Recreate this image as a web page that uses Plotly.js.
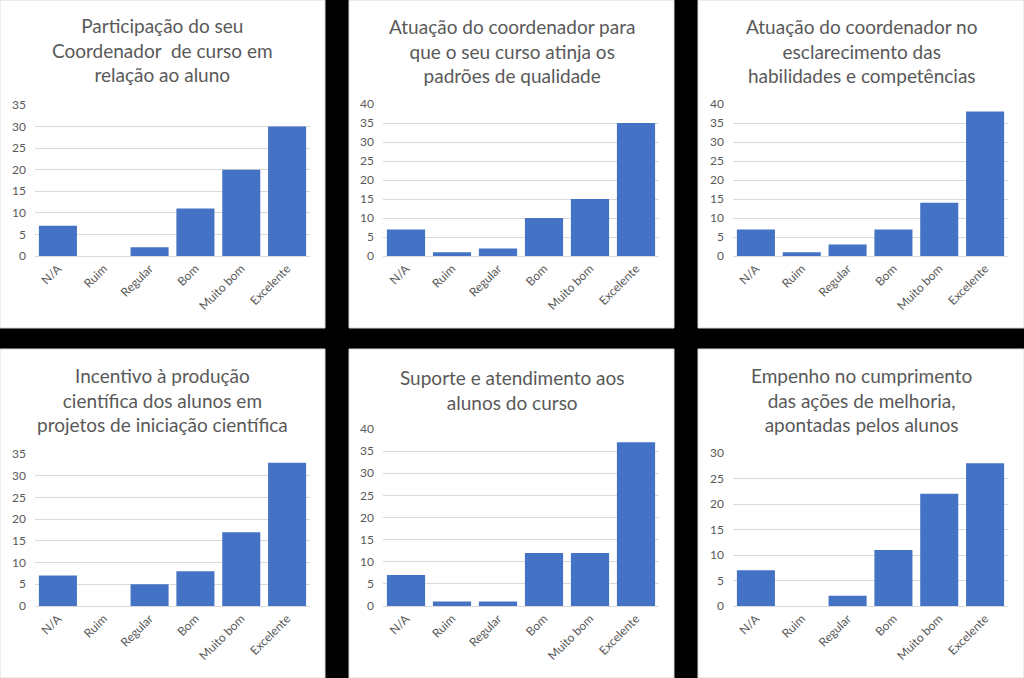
<!DOCTYPE html>
<html>
<head>
<meta charset="utf-8">
<script src="https://cdn.plot.ly/plotly-3.0.1.min.js"></script>
<style>html,body{margin:0;padding:0;background:#000;}#chart{width:1024px;height:678px;}</style>
</head>
<body>
<div id="chart"></div>
<script>
const categories = ["N/A", "Ruim", "Regular", "Bom", "Muito bom", "Excelente"];
const titles = [
  "Participação do seu<br>Coordenador  de curso em<br>relação ao aluno",
  "Atuação do coordenador para<br>que o seu curso atinja os<br>padrões de qualidade",
  "Atuação do coordenador no<br>esclarecimento das<br>habilidades e competências",
  "Incentivo à produção<br>científica dos alunos em<br>projetos de iniciação científica",
  "Suporte e atendimento aos<br>alunos do curso",
  "Empenho no cumprimento<br>das ações de melhoria,<br>apontadas pelos alunos"
];
const participacao = [7, 0, 2, 11, 20, 30];
const padroesQualidade = [7, 1, 2, 10, 15, 35];
const habilidades = [7, 1, 3, 7, 14, 38];
const iniciacaoCientifica = [7, 0, 5, 8, 17, 33];
const suporte = [7, 1, 1, 12, 12, 37];
const acoesMelhoria = [7, 0, 2, 11, 22, 28];
const yMax = [35, 40, 40, 35, 40, 30];

const series = [participacao, padroesQualidade, habilidades, iniciacaoCientifica, suporte, acoesMelhoria];

const W = 1024, H = 678;
const px = v => v / W;
const py = v => 1 - v / H;

// panel boxes (pixels): [x0, y0, x1, y1]
const panels = [
  [0, 0, 325, 328], [349, 0, 674, 328], [698, 0, 1024, 328],
  [0, 349, 325, 678], [349, 349, 674, 678], [698, 349, 1024, 678]
];
// plot areas (pixels): [x0, x1, yTop, yBottom]
const plots = [
  [35, 310, 105, 256], [383, 659, 104, 256], [733, 1008, 104, 256],
  [35, 310, 454, 606], [383, 659, 429, 606], [733, 1008, 453, 606]
];
// title centers (pixels)
const titlePos = [[162.5, 50], [512, 51], [861, 51], [162.5, 400], [512.5, 389.5], [861, 400]];

const textColor = "#595959";
const fontFam = "Lato, 'Open Sans', sans-serif";

const data = [];
const layout = {
  width: W, height: H,
  margin: {l: 0, r: 0, t: 0, b: 0},
  paper_bgcolor: "#000000",
  plot_bgcolor: "rgba(0,0,0,0)",
  showlegend: false,
  font: {family: fontFam, color: textColor},
  shapes: [],
  annotations: []
};

series.forEach((vals, i) => {
  const n = i + 1;
  const xa = n === 1 ? "x" : "x" + n;
  const ya = n === 1 ? "y" : "y" + n;
  data.push({
    type: "bar",
    x: categories,
    y: vals,
    xaxis: xa, yaxis: ya,
    marker: {color: "#4472C4"},
    hoverinfo: "x+y"
  });
  const p = plots[i];
  layout["xaxis" + (n === 1 ? "" : n)] = {
    domain: [px(p[0]), px(p[1])],
    anchor: ya,
    type: "category",
    tickangle: -45,
    showline: true, linecolor: "#d9d9d9", linewidth: 1,
    showgrid: false, zeroline: false,
    ticks: "", tickfont: {size: 12, color: textColor, family: fontFam},
    fixedrange: true
  };
  layout["yaxis" + (n === 1 ? "" : n)] = {
    domain: [py(p[3]), py(p[2])],
    anchor: xa,
    range: [0, yMax[i]],
    dtick: 5,
    showgrid: true, gridcolor: "#d9d9d9", gridwidth: 1,
    zeroline: false, showline: false,
    ticks: "", ticklabelstandoff: 8,
    tickfont: {size: 12, color: textColor, family: fontFam},
    fixedrange: true
  };
  const b = panels[i];
  layout.shapes.push({
    type: "rect", xref: "paper", yref: "paper", layer: "below",
    x0: px(b[0]), x1: px(b[2]), y0: py(b[3]), y1: py(b[1]),
    fillcolor: "#ffffff", line: {color: "#d9d9d9", width: 1}
  });
  const t = titlePos[i];
  layout.annotations.push({
    xref: "paper", yref: "paper", x: px(t[0]), y: py(t[1]),
    xanchor: "center", yanchor: "middle", showarrow: false,
    align: "center", text: titles[i],
    font: {size: 19, color: textColor, family: fontFam}
  });
});
layout.bargap = 0.17;

Plotly.newPlot("chart", data, layout, {staticPlot: true, displayModeBar: false});
</script>
</body>
</html>
